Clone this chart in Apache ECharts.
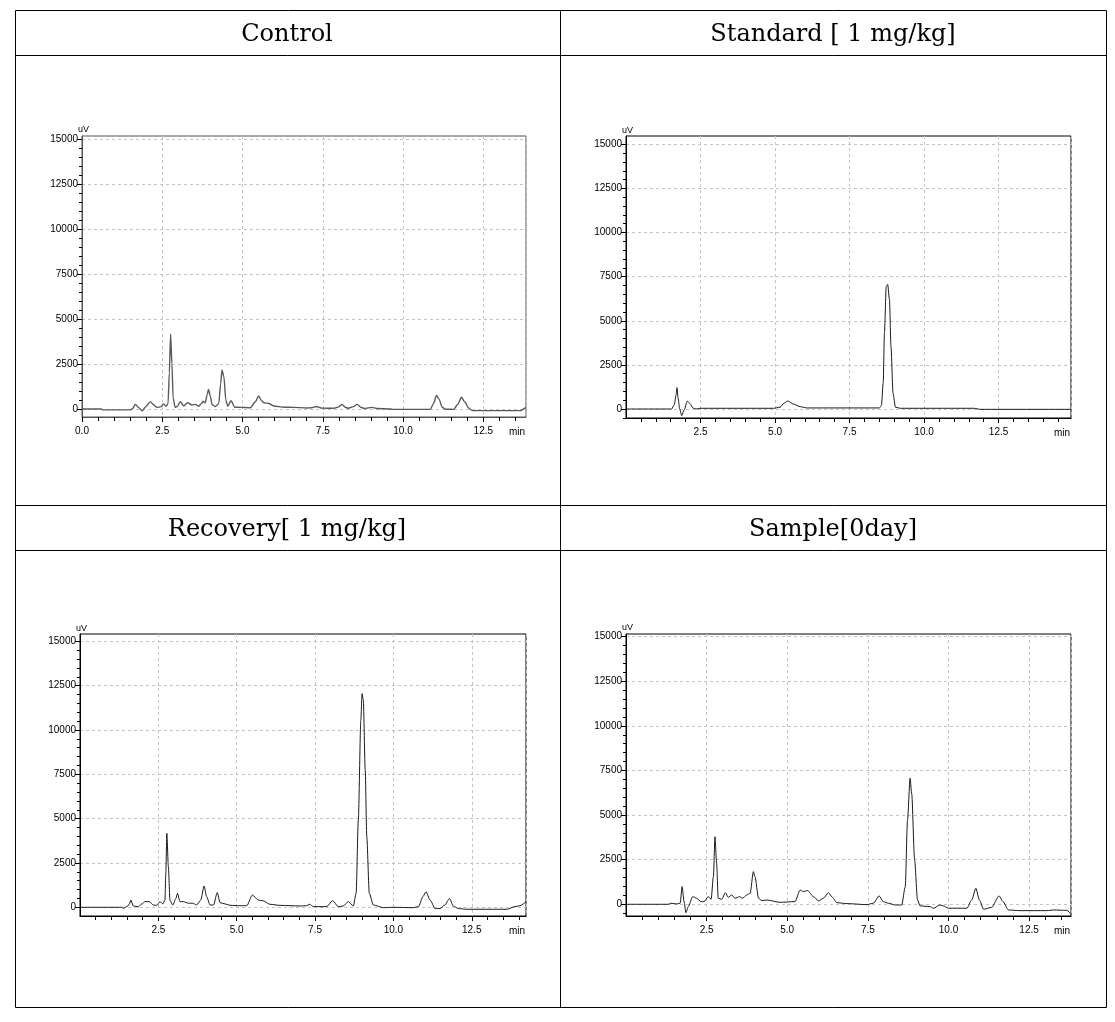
<!DOCTYPE html>
<html><head><meta charset="utf-8">
<script src="https://cdn.jsdelivr.net/npm/echarts@6/dist/echarts.min.js"></script>
<style>html,body{margin:0;padding:0;background:#fff}#c{width:1115px;height:1022px}</style>
</head><body><div id="c"></div>
<script>
const panelTitles = ['Control', 'Standard [ 1 mg/kg]', 'Recovery[ 1 mg/kg]', 'Sample[0day]'];
const yUnit = 'uV';
const xUnit = 'min';
const yMajorTicks = [0, 2500, 5000, 7500, 10000, 12500, 15000];
const yMinorTicks = [-500, 0, 500, 1000, 1500, 2000, 2500, 3000, 3500, 4000, 4500, 5000, 5500, 6000, 6500, 7000, 7500, 8000, 8500, 9000, 9500, 10000, 10500, 11000, 11500, 12000, 12500, 13000, 13500, 14000, 14500, 15000];
const xMinorTicks = [0.5, 1, 1.5, 2, 3, 3.5, 4, 4.5, 5.5, 6, 6.5, 7, 8, 8.5, 9, 9.5, 10.5, 11, 11.5, 12, 13, 13.5, 14, 14.5];

const controlTime = [0,0.6,0.65,1.5,1.58,1.66,1.78,1.87,2.0,2.13,2.22,2.34,2.45,2.54,2.62,2.68,2.72,2.76,2.8,2.84,2.9,2.97,3.06,3.17,3.29,3.43,3.53,3.63,3.72,3.77,3.84,3.9,3.94,4.0,4.05,4.15,4.26,4.32,4.36,4.42,4.48,4.54,4.64,4.76,4.93,5.24,5.4,5.5,5.6,5.66,5.82,5.97,6.3,6.59,7.0,7.15,7.3,7.48,7.84,8.0,8.1,8.2,8.3,8.45,8.57,8.7,8.8,9.03,9.19,9.6,9.7,10.85,10.95,11.04,11.12,11.22,11.32,11.58,11.7,11.82,11.92,12.05,12.15,13.66,13.75,13.83];
const controlSignal = [0,0,-50,-50,30,260,60,-110,150,410,250,90,120,280,150,300,2000,4170,2500,600,100,150,410,170,350,220,260,150,300,440,350,800,1090,700,250,130,300,1400,2170,1800,500,150,460,100,90,70,400,720,450,350,310,170,100,90,60,70,140,50,40,120,260,100,40,130,260,80,30,90,30,0,-20,-20,300,760,550,100,-10,-20,250,650,400,50,-90,-90,0,90];

const standardTime = [0,1.53,1.62,1.68,1.71,1.75,1.8,1.87,1.95,2.06,2.15,2.25,2.35,2.49,4.95,5.17,5.3,5.42,5.62,5.85,6.07,8.5,8.57,8.63,8.67,8.73,8.78,8.84,8.89,8.96,9.04,9.2,10.5,11.67,11.89,14.93];
const standardSignal = [0,0,230,800,1210,600,0,-380,-50,450,300,50,0,40,40,100,330,450,280,130,60,60,200,1500,4290,6930,7060,6180,3530,890,100,40,40,40,-20,-20];

const recoveryTime = [0,1.33,1.38,1.51,1.58,1.62,1.7,1.86,1.98,2.07,2.21,2.34,2.45,2.55,2.64,2.71,2.74,2.77,2.82,2.87,2.96,3.06,3.11,3.19,3.3,3.46,3.6,3.72,3.85,3.96,4.04,4.15,4.26,4.38,4.47,4.63,4.79,5.1,5.32,5.5,5.69,5.85,6.06,6.38,7.02,7.23,7.32,7.45,7.87,8.06,8.24,8.4,8.56,8.72,8.81,8.88,8.96,9.0,9.04,9.1,9.15,9.23,9.36,9.68,10.0,10.64,10.8,10.94,11.04,11.17,11.33,11.49,11.64,11.79,11.91,12.07,12.34,13.62,13.88,14.04,14.23];
const recoverySignal = [0,0,-50,50,200,410,80,30,200,320,320,130,110,320,190,400,2000,4170,2290,400,130,500,790,320,320,230,230,130,400,1200,600,130,130,830,260,190,110,90,90,690,410,360,170,110,75,90,170,40,40,375,40,75,320,75,790,4920,10550,12050,11670,7730,3980,790,130,-20,0,-20,40,600,880,410,-70,-70,130,500,75,-70,-110,-110,40,90,320];

const sampleTime = [0,1.31,1.39,1.57,1.68,1.74,1.8,1.86,1.93,2.07,2.19,2.32,2.42,2.55,2.64,2.71,2.76,2.81,2.86,2.97,3.08,3.17,3.28,3.38,3.52,3.62,3.74,3.85,3.95,4.0,4.11,4.21,4.36,4.78,5.24,5.4,5.5,5.63,5.81,5.97,6.12,6.28,6.38,6.54,6.85,7.47,7.67,7.85,7.98,8.14,8.35,8.55,8.66,8.73,8.81,8.86,8.95,9.04,9.12,9.43,9.53,9.74,9.84,10.0,10.57,10.72,10.85,10.96,11.09,11.34,11.57,11.69,11.86,12.22,13.05,13.26,13.67,13.8];
const sampleSignal = [0,0,60,20,60,990,150,-470,-130,430,340,150,150,430,280,1550,3790,2300,340,280,650,390,520,340,430,340,520,620,1830,1550,340,205,240,110,150,800,710,770,430,190,340,650,430,90,40,-20,60,470,150,60,-40,-40,990,4730,7060,6200,2480,240,-90,-130,-220,-40,-90,-220,-220,240,900,240,-280,-170,470,150,-320,-355,-355,-320,-340,-540];

const panels = [
  {time: controlTime, signal: controlSignal, grid: {left: 82, top: 136, width: 444, height: 281}, x: [0, 13.83], y: [-444, 15167], showX0: true, color: '#5a5a5a', w: 1.4, frame: '#555'},
  {time: standardTime, signal: standardSignal, grid: {left: 626, top: 136, width: 445, height: 282}, x: [0, 14.93], y: [-510, 15470], showX0: false, color: '#1a1a1a', w: 1, frame: '#000'},
  {time: recoveryTime, signal: recoverySignal, grid: {left: 80, top: 634, width: 446, height: 282}, x: [0, 14.23], y: [-490, 15411], showX0: false, color: '#1a1a1a', w: 1, frame: '#000'},
  {time: sampleTime, signal: sampleSignal, grid: {left: 626, top: 634, width: 445, height: 282}, x: [0, 13.8], y: [-656, 15151], showX0: false, color: '#1a1a1a', w: 1, frame: '#000'}
];

const titleCenters = [[287, 23], [833, 23], [287, 518], [833, 518]];
const axisFont = 'Liberation Sans';
const gridLine = {show: true, lineStyle: {color: '#c4c4c4', type: [3, 3], width: 1}};

const xMain = panels.map((p, i) => ({
  type: 'value', gridIndex: i, min: p.x[0], max: p.x[1], interval: 2.5, position: 'bottom',
  name: xUnit, nameLocation: 'end', nameGap: -17,
  nameTextStyle: {fontFamily: axisFont, fontSize: 10, color: '#000', verticalAlign: 'top', padding: [10, 0, 0, 0]},
  axisLine: {show: true, onZero: false, lineStyle: {color: p.frame, width: 1}},
  axisTick: {show: true, length: 5, lineStyle: {color: '#000'}},
  minorTick: {show: false},
  axisLabel: {fontFamily: axisFont, fontSize: 10, color: '#000', margin: 9, showMinLabel: p.showX0, showMaxLabel: false,
    formatter: v => v.toFixed(1)},
  splitLine: gridLine
}));
const xMinor = panels.map((p, i) => ({
  type: 'value', gridIndex: i, min: p.x[0], max: p.x[1], position: 'bottom', offset: 0,
  axisLine: {show: false, onZero: false}, axisLabel: {show: false}, splitLine: {show: false},
  axisTick: {show: true, length: 4, customValues: xMinorTicks, lineStyle: {color: '#000'}}
}));
const yMain = panels.map((p, i) => ({
  type: 'value', gridIndex: i, min: p.y[0], max: p.y[1], position: 'left',
  name: yUnit, nameLocation: 'end', nameGap: 1,
  nameTextStyle: {fontFamily: axisFont, fontSize: 9, color: '#000', align: 'left', padding: [0, 0, 0, -4]},
  axisLine: {show: true, onZero: false, lineStyle: {color: p.frame, width: 1}},
  axisTick: {show: true, length: 5, customValues: yMajorTicks, lineStyle: {color: '#000'}},
  minorTick: {show: false},
  axisLabel: {fontFamily: axisFont, fontSize: 10, color: '#000', margin: 4, customValues: yMajorTicks,
    formatter: v => String(v)},
  splitLine: gridLine
}));
const yMinor = panels.map((p, i) => ({
  type: 'value', gridIndex: i, min: p.y[0], max: p.y[1], position: 'left', offset: 0,
  axisLine: {show: false, onZero: false}, axisLabel: {show: false}, splitLine: {show: false},
  axisTick: {show: true, length: 3, customValues: yMinorTicks, lineStyle: {color: '#000'}}
}));

const option = {
  animation: false,
  backgroundColor: '#fff',
  title: panelTitles.map((t, i) => ({
    text: t, left: titleCenters[i][0], top: titleCenters[i][1], textAlign: 'center', padding: 0,
    textStyle: {fontFamily: 'DejaVu Serif', fontSize: 24, fontWeight: 'normal', color: '#000'}
  })),
  grid: panels.map(p => Object.assign({show: true, borderColor: p.frame, borderWidth: 1, backgroundColor: 'transparent'}, p.grid)),
  xAxis: xMain.concat(xMinor),
  yAxis: yMain.concat(yMinor),
  series: panels.map((p, i) => ({
    type: 'line', xAxisIndex: i, yAxisIndex: i, showSymbol: false, symbol: 'none',
    smooth: 0.25, smoothMonotone: 'x',
    lineStyle: {color: p.color, width: p.w},
    data: p.time.map((t, k) => [t, p.signal[k]])
  })),
  graphic: [
    {type: 'rect', shape: {x: 15.5, y: 10.5, width: 1091, height: 997}, style: {fill: 'none', stroke: '#000', lineWidth: 1}},
    {type: 'line', shape: {x1: 560.5, y1: 10, x2: 560.5, y2: 1007}, style: {stroke: '#000', lineWidth: 1}},
    {type: 'line', shape: {x1: 15, y1: 55.5, x2: 1106, y2: 55.5}, style: {stroke: '#000', lineWidth: 1}},
    {type: 'line', shape: {x1: 15, y1: 505.5, x2: 1106, y2: 505.5}, style: {stroke: '#000', lineWidth: 1}},
    {type: 'line', shape: {x1: 15, y1: 550.5, x2: 1106, y2: 550.5}, style: {stroke: '#000', lineWidth: 1}}
  ]
};

const chart = echarts.init(document.getElementById('c'), null, {renderer: 'canvas'});
chart.setOption(option);
</script>
</body></html>
